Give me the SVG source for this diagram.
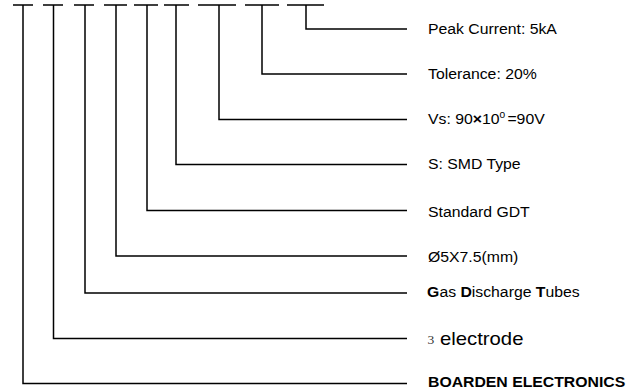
<svg xmlns="http://www.w3.org/2000/svg" width="641" height="391" viewBox="0 0 641 391">
<style>
.ln{fill:none;stroke:#000;stroke-width:1.5}
.t{font-family:"Liberation Sans",Arial,sans-serif;font-size:14px;fill:#000}
.b{font-weight:bold}
</style>
<rect width="641" height="391" fill="#fff"/>
<g id="code-bars" class="ln">
<path d="M13 5H33M43 5H63M74 5H94M104 5H127M134 5H158M164 5H189M198 5H236M245 5H279M287 5H324"/>
</g>
<g id="connectors" class="ln">
<path d="M306 5V29H407"/>
<path d="M262 5V74H407"/>
<path d="M219 5V119.5H407"/>
<path d="M176 5V164.5H407"/>
<path d="M147 5V210.5H407"/>
<path d="M116 5V256H407"/>
<path d="M85 5V293H407"/>
<path d="M53.5 5V338.5H407"/>
<path d="M23 5V383.5H407"/>
</g>
<g transform="translate(428 0) scale(1.128 1)">
<g id="peak-current"><text class="t" x="0" y="34">Peak Current: 5kA</text></g>
<g id="tolerance"><text class="t" x="0" y="79">Tolerance: 20%</text></g>
<g id="vs"><text class="t" x="0" y="124">Vs: 90<tspan class="b">×</tspan>10<tspan style="font-size:9px" dy="-6">0</tspan><tspan dy="6" dx="2">=90V</tspan></text></g>
<g id="smd"><text class="t" x="0" y="169">S: SMD Type</text></g>
<g id="standard-gdt"><text class="t" x="0" y="216.7">Standard GDT</text></g>
<g id="size"><text class="t" x="0" y="261.7">Ø5X7.5(mm)</text></g>
<g id="gdt"><text class="t" x="-0.8" y="297">
<tspan class="b">G</tspan>as <tspan class="b">D</tspan>ischarge <tspan class="b">T</tspan>ubes</text></g>
<g id="electrode"><text x="-0.5" y="344" font-family="'Liberation Serif',serif" font-size="12" fill="#333">3</text><text class="t" x="10.6" y="345.3" style="font-size:18px">electrode</text></g>
<g id="boarden"><text class="t b" x="0" y="387">BOARDEN ELECTRONICS</text></g>
</g>
</svg>
